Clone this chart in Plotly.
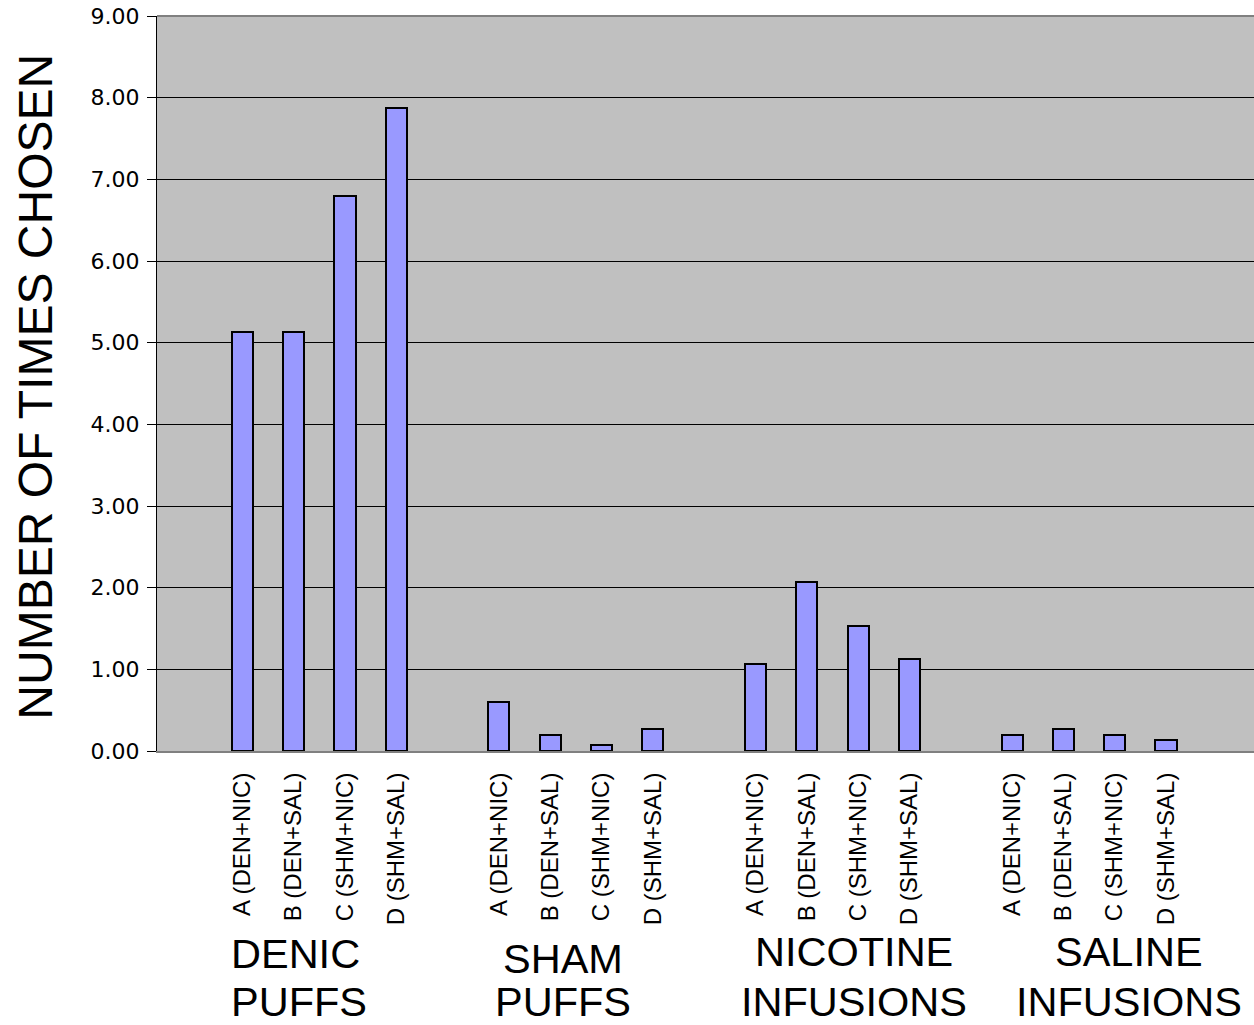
import plotly.graph_objects as go

# Bar labels within each group and the four groups (two caption lines each)
conditions = ["A (DEN+NIC)", "B (DEN+SAL)", "C (SHM+NIC)", "D (SHM+SAL)"]
group_line1 = ["DENIC", "SHAM", "NICOTINE", "SALINE"]
group_line2 = ["PUFFS", "PUFFS", "INFUSIONS", "INFUSIONS"]

# Mean number of times chosen
denic_puffs = [5.13, 5.13, 6.80, 7.87]
sham_puffs = [0.60, 0.20, 0.07, 0.27]
nicotine_infusions = [1.07, 2.07, 1.53, 1.13]
saline_infusions = [0.20, 0.27, 0.20, 0.13]

y_ticks = [0, 1, 2, 3, 4, 5, 6, 7, 8, 9]

series = [denic_puffs, sham_puffs, nicotine_infusions, saline_infusions]

# Place four bars per group, leaving one empty slot between groups
xs, ys, labels = [], [], []
for g, vals in enumerate(series):
    for i, v in enumerate(vals):
        xs.append(g * 5 + i)
        ys.append(v)
        labels.append(conditions[i])

fig = go.Figure()
fig.add_trace(go.Bar(
    x=xs, y=ys, width=0.41,
    marker=dict(color="#9999FF", line=dict(color="black", width=2)),
    hoverinfo="y",
))

# Free-standing group captions under the category labels
caption_x = [-0.26, 6.249, 11.92, 17.28]
caption_anchor = ["left", "center", "center", "center"]
caption_y1 = [-0.2408, -0.2476, -0.2381, -0.2381]
caption_y2 = [-0.3061, -0.3061, -0.3061, -0.3061]
cap_font = dict(family="Liberation Sans, Arial", size=41.5, color="black")
for l1, l2, cx, anc, y1, y2 in zip(group_line1, group_line2, caption_x,
                                    caption_anchor, caption_y1, caption_y2):
    for txt, yy in ((l1, y1), (l2, y2)):
        fig.add_annotation(
            x=cx, y=yy, xref="x", yref="paper", text=txt, showarrow=False,
            xanchor=anc, yanchor="top", font=cap_font,
        )

fig.add_annotation(
    x=-0.111, y=0.496, xref="paper", yref="paper", text="NUMBER OF TIMES CHOSEN",
    textangle=-90, showarrow=False, xanchor="center", yanchor="middle",
    font=dict(family="Liberation Sans, Arial", size=48, color="black"),
)

# Grey frame line along the top of the plotting area
fig.add_shape(type="line", xref="paper", yref="paper", x0=0, x1=1, y0=1, y1=1,
              line=dict(color="#808080", width=2))

fig.update_layout(
    width=1254, height=1025,
    margin=dict(l=157, r=0, t=16, b=274),
    paper_bgcolor="white", plot_bgcolor="#C0C0C0",
    showlegend=False, bargap=0,
)
fig.update_xaxes(
    range=[-1.664, 19.715], tickmode="array", tickvals=xs, ticktext=labels,
    tickangle=-90, ticks="", ticklabelstandoff=10,
    tickfont=dict(family="Liberation Sans, Arial", size=24, color="black"),
    showgrid=False, zeroline=False, showline=True, linecolor="#808080", linewidth=2,
)
fig.update_yaxes(
    range=[0, 9], tickmode="array", tickvals=y_ticks, tickformat=".2f",
    ticks="outside", ticklen=9, tickcolor="black", tickwidth=1, ticklabelstandoff=3,
    tickfont=dict(family="DejaVu Sans", size=22, color="black"),
    showgrid=True, gridcolor="black", gridwidth=1,
    zeroline=False, showline=True, linecolor="black", linewidth=1,
)

fig.write_html("out.html")
